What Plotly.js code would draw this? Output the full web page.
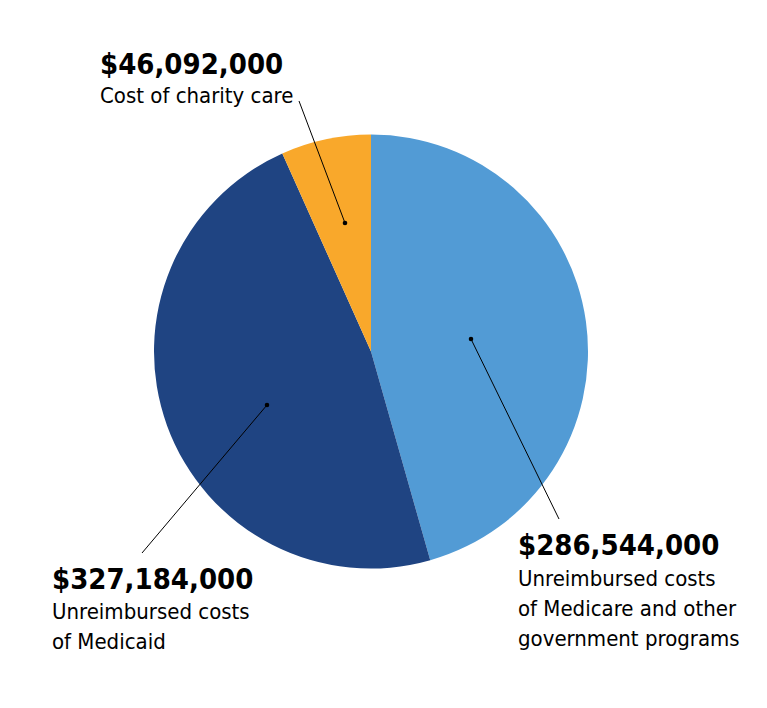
<!DOCTYPE html>
<html>
<head>
<meta charset="utf-8">
<script src="https://cdn.plot.ly/plotly-3.0.1.min.js"></script>
<style>html,body{margin:0;padding:0;background:#fff;}#chart{width:767px;height:708px;}</style>
</head>
<body>
<div id="chart"></div>
<script>
const categories = ["Unreimbursed costs of Medicare and other government programs", "Unreimbursed costs of Medicaid", "Cost of charity care"];
// dollar amounts printed on the chart
const amounts = [286544000, 327184000, 46092000];
// slice shares (%) as drawn in the reference picture
const sliceShares = [45.6, 47.7, 6.7];
const colors = ["#529BD5", "#1F4482", "#F9A82B"];
const descLines = [
  ["Unreimbursed costs", "of Medicare and other", "government programs"],
  ["Unreimbursed costs", "of Medicaid"],
  ["Cost of charity care"]
];

const W = 767, H = 708;
const FONT = "'DejaVu Sans Condensed', 'Liberation Sans Narrow', 'Arial Narrow', sans-serif";
const px = x => x / W;
const py = y => 1 - y / H;

const blocks = [
  {x: 516, numY: 545, firstY: 578, step: 30, dot: [471, 339], end: [559, 519]},
  {x: 50,  numY: 579, firstY: 611, step: 30, dot: [267, 405], end: [142, 553]},
  {x: 98,  numY: 64,  firstY: 96,  step: 30, dot: [345, 223], end: [299, 101]}
];

const annotations = [];
const shapes = [];
amounts.forEach((v, i) => {
  const b = blocks[i];
  annotations.push({
    xref: 'paper', yref: 'paper', x: px(b.x), y: py(b.numY),
    xanchor: 'left', yanchor: 'middle', showarrow: false,
    text: '<b>$' + v.toLocaleString('en-US') + '</b>',
    font: {family: FONT, size: 29, color: '#000'}
  });
  descLines[i].forEach((t, j) => {
    annotations.push({
      xref: 'paper', yref: 'paper', x: px(b.x), y: py(b.firstY + j * b.step),
      xanchor: 'left', yanchor: 'middle', showarrow: false,
      text: t,
      font: {family: FONT, size: 22, color: '#000'}
    });
  });
  shapes.push({type: 'line', xref: 'paper', yref: 'paper',
    x0: px(b.dot[0]), y0: py(b.dot[1]), x1: px(b.end[0]), y1: py(b.end[1]),
    line: {color: '#000', width: 1}});
  const r = 2.3;
  shapes.push({type: 'circle', xref: 'paper', yref: 'paper',
    x0: px(b.dot[0] - r), x1: px(b.dot[0] + r), y0: py(b.dot[1] + r), y1: py(b.dot[1] - r),
    fillcolor: '#000', line: {width: 0}});
});

const cx = 371, cy = 351.5, R = 217;
const trace = {
  type: 'pie',
  labels: categories,
  values: sliceShares,
  customdata: amounts,
  marker: {colors: colors, line: {width: 0}},
  sort: false,
  direction: 'clockwise',
  rotation: 0,
  textinfo: 'none',
  hovertemplate: '%{label}: $%{customdata:,}<extra></extra>',
  domain: {x: [px(cx - R), px(cx + R)], y: [py(cy + R), py(cy - R)]}
};

Plotly.newPlot('chart', [trace], {
  width: W, height: H,
  margin: {l: 0, r: 0, t: 0, b: 0},
  paper_bgcolor: '#fff',
  showlegend: false,
  annotations: annotations,
  shapes: shapes
}, {displayModeBar: false, staticPlot: true});
</script>
</body>
</html>
